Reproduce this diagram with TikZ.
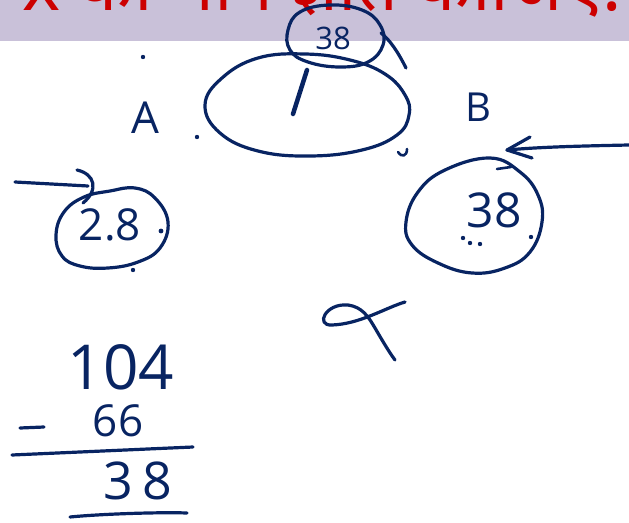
\documentclass[tikz,border=0pt]{standalone}
\usepackage{fontspec}
\usepackage{graphicx}
\setmainfont{Open Sans}
\newfontfamily\deva[Script=Devanagari]{Noto Sans}
\definecolor{ink}{RGB}{8,36,98}
\definecolor{banner}{RGB}{201,193,217}
\definecolor{redtxt}{RGB}{204,0,0}
\tikzset{
  hand/.style={draw=ink, line width=3.2pt, line cap=round, line join=round},
  digits/.style={text=ink, inner sep=0pt},
  inkdot/.style={fill=ink, draw=none},
}
\begin{document}
\begin{tikzpicture}[x=1pt,y=-1pt]
\useasboundingbox (0,0) rectangle (629,522);
\clip (0,0) rectangle (629,522);
% banner
\fill[banner] (0,0) rectangle (629,41);
\node[anchor=base west, text=redtxt, inner sep=0pt, font=\deva\bfseries\fontsize{76}{80}\selectfont] (title) at (22,10) {\resizebox{600pt}{!}{x का मान ज्ञात कीजिए:}};
% big ellipse
\draw[hand] plot[smooth cycle, tension=0.7] coordinates {(205,105) (222,78) (258,58) (305,54) (350,60) (385,74) (405,95) (409,115) (397,135) (362,150) (310,156) (258,151) (220,133)};
% small top circle
\draw[hand] plot[smooth cycle, tension=0.7] coordinates {(288,30) (300,12) (330,5) (362,10) (380,25) (383,45) (368,62) (340,67) (308,62) (290,50)};
\node[digits, font=\fontsize{31}{33}\selectfont] (topnum) at (333,38) {38};
\draw[hand] (381,33) .. controls (390,40) and (398,52) .. (406,68);
% stroke inside the ellipse
\draw[hand, line width=4.5pt] (307,70) -- (293,114);
% labels A, B
\node[digits, font=\fontsize{44}{46}\selectfont] (labA) at (145,118) {A};
\node[digits, font=\fontsize{40}{42}\selectfont] (labB) at (478,107) {B};
% dots
\fill[inkdot] (143,57) circle (2.2);
\fill[inkdot] (197,137) circle (2.2);
\fill[inkdot] (133,270) circle (2.2);
\fill[inkdot] (161,231) circle (2.4);
\draw[hand, line width=2.6pt] (398,152) .. controls (402,158) and (407,156) .. (407,149);
% left circle with 28
\draw[hand] plot[smooth cycle, tension=0.7] coordinates {(56,235) (64,212) (84,197) (110,191) (135,188) (155,198) (168,222) (160,248) (138,262) (108,268) (80,266) (62,256)};
\node[digits, font=\fontsize{44}{46}\selectfont] (leftnum) at (110,225) {2.8};
\draw[hand] (15,182) -- (88,186);
\draw[hand] (77,170) .. controls (95,174) and (99,190) .. (83,203);
% right circle with 38
\draw[hand] plot[smooth cycle, tension=0.7] coordinates {(490,158) (520,172) (538,195) (542,222) (530,252) (505,268) (472,273) (438,263) (412,245) (406,222) (418,192) (445,170)};
\node[digits, font=\fontsize{48}{50}\selectfont] (rightnum) at (494,210) {38};
\draw[hand, line width=2.6pt] (497,169) -- (511,167);
\fill[inkdot] (463,238) circle (2.2);
\fill[inkdot] (470,243) circle (2.2);
\fill[inkdot] (480,244) circle (2.2);
\fill[inkdot] (531,237) circle (2.2);
% arrow on the right
\coordinate (rtail) at (629,145);
\coordinate (rtip) at (507,150);
\draw[hand] (rtail) .. controls (580,146) and (540,147) .. (rtip);
\draw[hand] (530,137) -- (rtip) -- (532,158);
% x shape
\draw[hand] (405,302) .. controls (385,308) and (360,324) .. (332,325)
  .. controls (315,326) and (325,303) .. (348,305)
  .. controls (362,307) and (368,316) .. (375,328)
  .. controls (382,340) and (389,352) .. (395,360);
% subtraction
\node[digits, font=\fontsize{62}{64}\selectfont] (n104) at (121,367) {104};
\node[digits, font=\fontsize{44}{46}\selectfont] (n66) at (118,421) {66};
\draw[hand] (20,428) -- (44,427);
\draw[hand] (12,455) -- (193,447);
\node[digits, font=\fontsize{52}{54}\selectfont] (n38) at (138,481) {3\,8};
\draw[hand] (70,517) .. controls (100,514) and (160,512) .. (187,513);
\end{tikzpicture}
\end{document}
